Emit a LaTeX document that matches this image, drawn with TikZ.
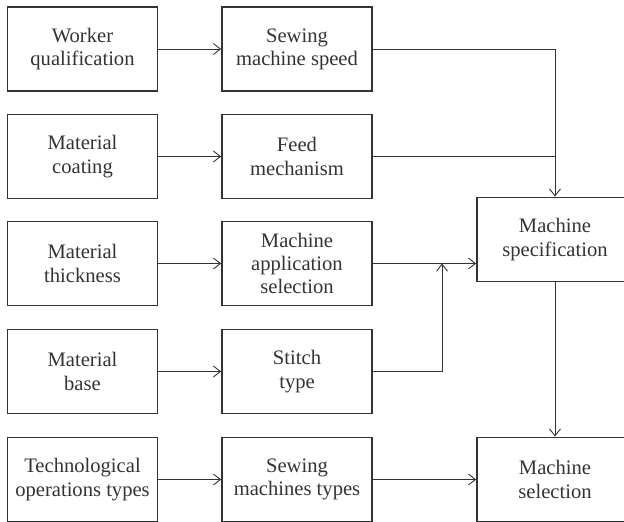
\documentclass[tikz,border=0pt]{standalone}
\usepackage{fontspec}
\setmainfont{Liberation Serif}
\newfontfamily\boxfont{Liberation Serif}
\usetikzlibrary{arrows.meta}

\tikzset{
  box/.style={draw=black!80, line width=0.9pt, minimum width=75pt, minimum height=42pt,
              align=center, font=\boxfont\fontsize{10.3}{11.6}\selectfont, text=black!80},
  wide/.style={box, minimum width=78pt},
  link/.style={draw=black!80, line width=0.45pt, ->, >={Straight Barb[length=3.5pt,width=5.5pt]}}
}

\begin{document}
\begin{tikzpicture}[x=0.5pt, y=-0.5pt]

% Frame of the picture
\clip (0,0) rectangle (624,522);

% Left column
\node[box] (worker)   at (82.5, 49.0) {Worker\\qualification};
\node[box] (coating)  at (82.5,156.5) {Material\\coating};
\node[box] (thick)    at (82.5,263.5) {Material\\thickness};
\node[box] (base)     at (82.5,371.5) {Material\\base};
\node[box] (techops)  at (82.5,479.5) {Technological\\operations types};

% Middle column
\node[box] (speed)    at (297, 49.0) {Sewing\\machine speed};
\node[box] (feed)     at (297,156.5) {Feed\\mechanism};
\node[box] (appl)     at (297,263.5) {Machine\\application\\selection};
\node[box] (stitch)   at (297,371.5) {Stitch\\type};
\node[box] (sewtypes) at (297,479.5) {Sewing\\machines types};

% Right column
\node[wide] (spec)    at (555,239.5) {Machine\\specification};
\node[wide] (select)  at (555,479.5) {Machine\\selection};

\coordinate (merge) at (442,263.5);

% Rows
\draw[link] (worker)  -- (speed);
\draw[link] (coating) -- (feed);
\draw[link] (thick)   -- (appl);
\draw[link] (base)    -- (stitch);
\draw[link] (techops) -- (sewtypes);
\draw[link] (sewtypes) -- (select);

% Into the specification
\draw[link] (speed.east) -| (spec.north);
\draw[link, -] (feed.east) -- (feed.east -| spec.north);
\draw[link] (appl.east) -- (appl.east -| spec.west);
\draw[link] (stitch.east) -| (merge);
\draw[link] (spec) -- (select);

\end{tikzpicture}
\end{document}
